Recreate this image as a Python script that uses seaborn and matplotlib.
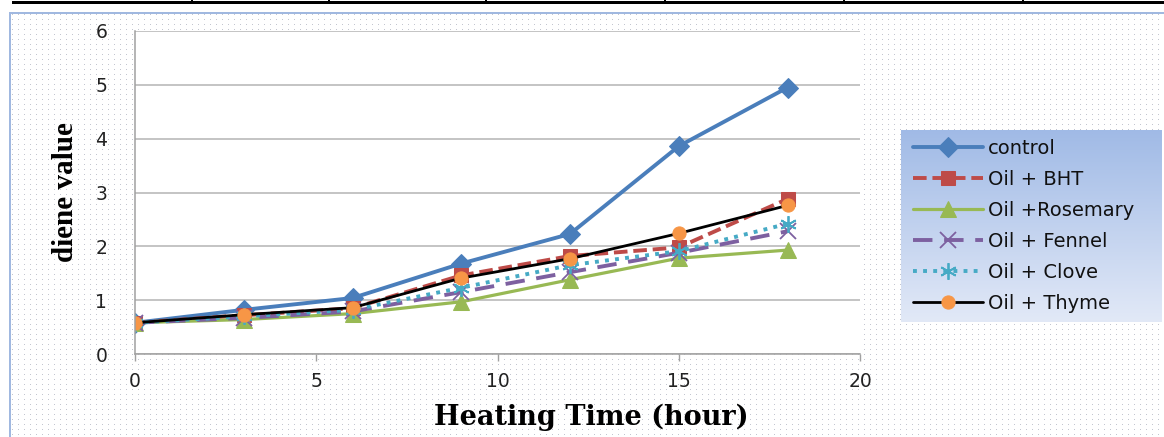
import numpy as np
import pandas as pd
import matplotlib
matplotlib.use("Agg")
import matplotlib.pyplot as plt
import seaborn as sns

# ---- data ----
hours = [0, 3, 6, 9, 12, 15, 18]
control = [0.58, 0.82, 1.04, 1.68, 2.23, 3.86, 4.95]
oil_bht = [0.58, 0.72, 0.85, 1.46, 1.82, 1.98, 2.88]
oil_rosemary = [0.58, 0.64, 0.75, 0.97, 1.38, 1.78, 1.93]
oil_fennel = [0.58, 0.67, 0.79, 1.15, 1.52, 1.88, 2.28]
oil_clove = [0.58, 0.70, 0.82, 1.23, 1.65, 1.91, 2.42]
oil_thyme = [0.58, 0.73, 0.86, 1.41, 1.77, 2.24, 2.76]
series_names = ["control", "Oil + BHT", "Oil +Rosemary", "Oil + Fennel", "Oil + Clove", "Oil + Thyme"]
x_ticks = [0, 5, 10, 15, 20]
y_ticks = [0, 1, 2, 3, 4, 5, 6]

sns.set_theme(style="white")
plt.rcParams['font.family'] = ['DejaVu Sans']

W, H = 1164, 437
fig = plt.figure(figsize=(W / 100, H / 100), dpi=100)
fig.patch.set_facecolor("white")

# dotted chart-area background with light blue frame
bg = np.ones((H, W, 3))
fx0, fy0 = 9, 12
yy, xx = np.mgrid[0:H, 0:W]
dots = (xx >= fx0) & (yy >= fy0) & ((xx - fx0) % 6 == 3) & ((yy - fy0) % 5 == 2)
bg[dots] = np.array([195, 198, 208]) / 255.0
frame_c = np.array([160, 184, 224]) / 255.0
bg[fy0:fy0 + 2, fx0:] = frame_c
bg[fy0:, fx0:fx0 + 2] = frame_c
# table rule at top
bg[1:4, 12:] = 0.0
for vx in [191, 328, 485, 664, 843, 1022]:
    bg[0:4, vx:vx + 2] = 0.0
fig.figimage(bg, xo=0, yo=0, origin="upper", zorder=-1)

# main axes
L, R, T, B = 135, 860, 31, 354
ax = fig.add_axes([L / W, 1 - B / H, (R - L) / W, (B - T) / H])
ax.set_facecolor("white")

df = pd.DataFrame({"hours": hours, "control": control, "Oil + BHT": oil_bht,
                   "Oil +Rosemary": oil_rosemary, "Oil + Fennel": oil_fennel,
                   "Oil + Clove": oil_clove, "Oil + Thyme": oil_thyme})

styles = {
    "control": dict(color="#4A7EBB", linestyle="-", linewidth=2.8, marker="D", markersize=10,
                    markerfacecolor="#4A7EBB", markeredgecolor="#4A7EBB"),
    "Oil + BHT": dict(color="#BE4B48", linestyle=(0, (3.5, 1.5)), linewidth=2.8, marker="s", markersize=10.5,
                      markerfacecolor="#BE4B48", markeredgecolor="#BE4B48"),
    "Oil +Rosemary": dict(color="#98B954", linestyle="-", linewidth=2.3, marker="^", markersize=11,
                          markerfacecolor="#98B954", markeredgecolor="#98B954"),
    "Oil + Fennel": dict(color="#7D60A0", linestyle=(0, (5, 3)), linewidth=2.8, marker="x", markersize=11,
                         markerfacecolor="#7D60A0", markeredgecolor="#7D60A0", markeredgewidth=1.3),
    "Oil + Clove": dict(color="#46AAC5", linestyle=(0, (1, 1.6)), linewidth=2.8, marker=(6, 2, 0), markersize=12,
                        markerfacecolor="#46AAC5", markeredgecolor="#46AAC5", markeredgewidth=1.3),
    "Oil + Thyme": dict(color="black", linestyle="-", linewidth=2.0, marker="o", markersize=9.5,
                        markerfacecolor="#F79646", markeredgecolor="#F79646"),
}

for name in series_names:
    sns.lineplot(data=df, x="hours", y=name, ax=ax, label=name, **styles[name])

ax.set_xlim(0, 20)
ax.set_ylim(0, 6)
ax.set_xticks(x_ticks)
ax.set_yticks(y_ticks)
ax.set_xticklabels([str(v) for v in x_ticks])
ax.set_yticklabels([str(v) for v in y_ticks])
ax.yaxis.grid(True, color="#B4B4B4", linewidth=1.1)
ax.xaxis.grid(False)
for s in ["top", "right"]:
    ax.spines[s].set_visible(False)
ax.spines["left"].set_color("#A0A0A0")
ax.spines["bottom"].set_color("#A0A0A0")
ax.spines["left"].set_linewidth(1.1)
ax.spines["bottom"].set_linewidth(1.1)
ax.tick_params(axis="x", direction="out", length=5, width=1, color="#A0A0A0", pad=8,
               labelsize=13.5, labelcolor="#222222", bottom=True)
ax.tick_params(axis="y", length=0, pad=20, labelsize=13.5, labelcolor="#222222", left=True)

ax.set_ylabel("diene value", fontfamily="Liberation Serif", fontweight="bold", fontsize=21, color="black")
ax.yaxis.set_label_coords(-0.077, 0.5)
ax.set_xlabel("Heating Time (hour)", fontfamily="DejaVu Serif", fontweight="bold", fontsize=19.5, color="black")
ax.xaxis.set_label_coords(0.629, -0.155)

handles, labels = ax.get_legend_handles_labels()
ax.get_legend().remove()

# legend box with vertical gradient
lx0, lx1, ly0, ly1 = 901, 1162, 130, 322
lax = fig.add_axes([lx0 / W, 1 - ly1 / H, (lx1 - lx0) / W, (ly1 - ly0) / H])
top_c = np.array([160, 186, 230]) / 255.0
bot_c = np.array([226, 233, 247]) / 255.0
t = np.linspace(0, 1, 200)[:, None]
grad = (top_c[None, :] * (1 - t) + bot_c[None, :] * t)[:, None, :]
lax.imshow(grad, aspect="auto", extent=[0, 1, 0, 1], origin="upper")
lax.set_xlim(0, 1)
lax.set_ylim(0, 1)
lax.axis("off")
leg = lax.legend(handles, labels, loc="center left", bbox_to_anchor=(0.03, 0.5), frameon=False,
                 fontsize=14, handlelength=3.6, handletextpad=0.25, labelspacing=0.62,
                 borderaxespad=0.0, borderpad=0.2)
for txt in leg.get_texts():
    txt.set_color("#111111")

fig.savefig("out.png", dpi=100)
